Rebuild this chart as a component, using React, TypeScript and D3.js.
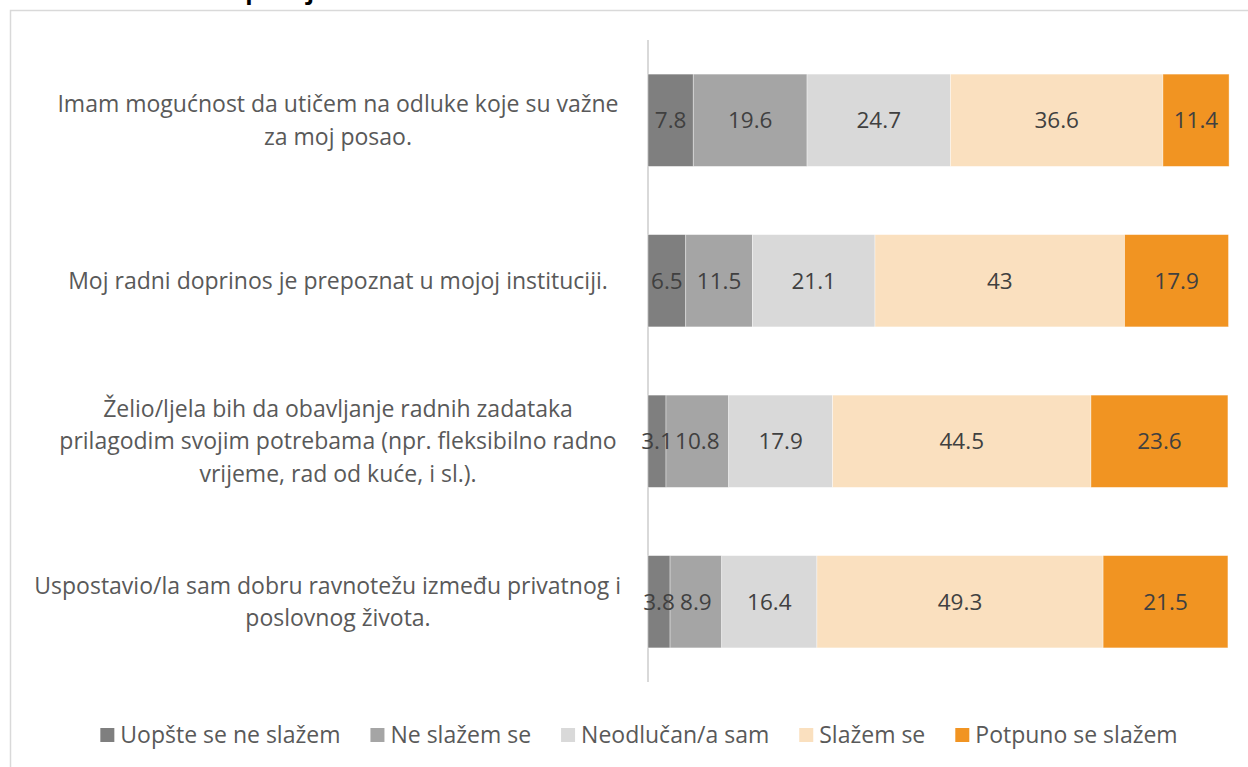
import React, { useEffect, useRef } from "react";
import * as d3 from "d3";

const categories: string[][] = [
  ["Imam mogućnost da utičem na odluke koje su važne", "za moj posao."],
  ["Moj radni doprinos je prepoznat u mojoj instituciji."],
  ["Želio/ljela bih da obavljanje radnih zadataka", "prilagodim svojim potrebama (npr. fleksibilno radno", "vrijeme, rad od kuće, i sl.)."],
  ["Uspostavio/la sam dobru ravnotežu između privatnog i", "poslovnog života."],
];
const seriesNames = ["Uopšte se ne slažem", "Ne slažem se", "Neodlučan/a sam", "Slažem se", "Potpuno se slažem"];
const uopste = [7.8, 6.5, 3.1, 3.8];
const neSlazem = [19.6, 11.5, 10.8, 8.9];
const neodlucan = [24.7, 21.1, 17.9, 16.4];
const slazem = [36.6, 43, 44.5, 49.3];
const potpuno = [11.4, 17.9, 23.6, 21.5];
const seriesValues = [uopste, neSlazem, neodlucan, slazem, potpuno];
const colors = ["#7f7f7f", "#a5a5a5", "#d9d9d9", "#fae0bf", "#f19422"];
const titleText = "Upravljački i radni uslovi";

const W = 1248, H = 767;
const FONT = "'Open Sans', sans-serif";

export default function App() {
  const ref = useRef<SVGSVGElement>(null);
  useEffect(() => {
    const svg = d3.select(ref.current);
    svg.selectAll("*").remove();

    svg.append("rect").attr("x", 10.5).attr("y", 10.5).attr("width", 1300).attr("height", 900)
      .attr("fill", "white").attr("stroke", "#d9d9d9").attr("stroke-width", 1.5);

    svg.append("text").attr("x", 227).attr("y", -1).attr("font-family", FONT)
      .attr("font-weight", "bold").attr("font-size", 24).attr("fill", "#000").text(titleText);

    const x = d3.scaleLinear().domain([0, 100]).range([648, 1228.5]);
    const y = d3.scaleBand<number>().domain(d3.range(categories.length)).range([40, 682]).paddingInner(0.425).paddingOuter(0.2125);

    const gBars = svg.append("g");
    const gLabels = svg.append("g");
    categories.forEach((_, i) => {
      let acc = 0;
      seriesValues.forEach((vals, s) => {
        const v = vals[i];
        const x0 = x(acc), x1 = x(acc + v);
        acc += v;
        gBars.append("rect").attr("x", x0).attr("y", y(i)!).attr("width", x1 - x0).attr("height", y.bandwidth())
          .attr("fill", colors[s]).attr("stroke", "#ffffff").attr("stroke-opacity", 0.5).attr("stroke-width", 0.75);
        gLabels.append("text").attr("x", (x0 + x1) / 2).attr("y", y(i)! + y.bandwidth() / 2).attr("dy", "0.35em")
          .attr("text-anchor", "middle").attr("font-family", FONT).attr("font-size", 22.5).attr("fill", "#404040")
          .text(String(v));
      });
    });

    // axis line
    svg.insert("line", "g").attr("x1", 648).attr("x2", 648).attr("y1", 40).attr("y2", 682)
      .attr("stroke", "#d9d9d9").attr("stroke-width", 2);

    // category labels
    const lineH = 32.5;
    categories.forEach((lines, i) => {
      const cy = y(i)! + y.bandwidth() / 2;
      lines.forEach((ln, k) => {
        const t = svg.append("text").attr("font-family", FONT).attr("font-size", 23).attr("fill", "#595959")
          .attr("text-anchor", "middle").attr("dy", "0.35em")
          .attr("y", cy + (k - (lines.length - 1) / 2) * lineH).text(ln);
        const w = (t.node() as SVGTextElement).getComputedTextLength();
        const cx = Math.min(338, 621 - w / 2);
        t.attr("x", cx);
      });
    });

    // legend
    const lg = svg.append("g");
    let cur = 0;
    seriesNames.forEach((n, s) => {
      const sq = cur;
      lg.append("rect").attr("x", sq).attr("y", 728).attr("width", 14).attr("height", 14).attr("fill", colors[s]);
      const t = lg.append("text").attr("x", sq + 20).attr("y", 735).attr("dy", "0.35em")
        .attr("font-family", FONT).attr("font-size", 23).attr("fill", "#595959").text(n);
      const w = (t.node() as SVGTextElement).getComputedTextLength();
      cur = sq + 20 + w + 30;
    });
    const total = cur - 30;
    lg.attr("transform", `translate(${639 - total / 2},0)`);
  }, []);

  return (
    <div style={{ position: "absolute", left: 0, top: 0 }}>
      <svg ref={ref} width={W} height={H} style={{ display: "block", background: "white" }} />
    </div>
  );
}
